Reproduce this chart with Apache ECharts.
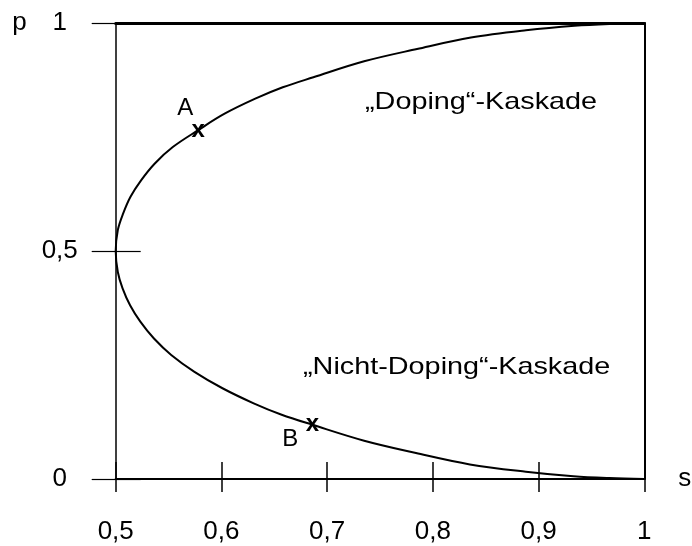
<!DOCTYPE html>
<html>
<head>
<meta charset="utf-8">
<script src="https://cdn.jsdelivr.net/npm/echarts@6/dist/echarts.min.js"></script>
<style>
html,body{margin:0;padding:0;background:#fff;}
#c{width:692px;height:546px;}
</style>
</head>
<body>
<div id="c"></div>
<script>
// Upper branch ("Doping"-Kaskade), from the apex to s=1
const sTop = [0.5, 0.502, 0.507, 0.514, 0.524, 0.537, 0.554, 0.578, 0.603, 0.632, 0.658, 0.687, 0.735, 0.785, 0.836, 0.888, 0.934, 0.967, 1.0];
const pTop = [0.5, 0.546, 0.582, 0.619, 0.655, 0.692, 0.728, 0.765, 0.801, 0.834, 0.859, 0.881, 0.916, 0.943, 0.968, 0.984, 0.994, 0.998, 1.0];
// Lower branch ("Nicht-Doping"-Kaskade), from the apex to s=1
const sBot = [0.5, 0.502, 0.5065, 0.5136, 0.5233, 0.5362, 0.5525, 0.5745, 0.601, 0.6305, 0.657, 0.686, 0.735, 0.784, 0.835, 0.888, 0.933, 0.967, 1.0];
const pBot = [0.5, 0.454, 0.418, 0.381, 0.345, 0.308, 0.272, 0.235, 0.199, 0.166, 0.141, 0.119, 0.084, 0.057, 0.032, 0.016, 0.006, 0.002, 0.0];
// Marked points
const markNames = ['A', 'B'];
const markS = [0.578, 0.686];
const markP = [0.765, 0.119];
// Axis names and region labels
const xName = 's';
const yName = 'p';
const textTop = '\u201EDoping\u201C-Kaskade';
const textBot = '\u201ENicht-Doping\u201C-Kaskade';

const FONT = "'Liberation Sans', Arial, sans-serif";
const fmt = v => String(+(+v).toFixed(2)).replace('.', ',');

// one continuous curve: top branch from s=1 back to the apex, then the lower branch
const curve = [];
for (let i = sTop.length - 1; i >= 0; i--) curve.push([sTop[i], pTop[i]]);
for (let i = 1; i < sBot.length; i++) curve.push([sBot[i], pBot[i]]);

const marks = markNames.map((n, i) => ({ name: n, value: [markS[i], markP[i]] }));
const letterOffsets = { A: [-13, -22], B: [-22, 15] };

const xBase = { type: 'value', min: 0.5, max: 1, interval: 0.1, splitLine: { show: false } };
const yBase = { type: 'value', min: 0, max: 1, interval: 0.5, splitLine: { show: false } };
const clear = 'rgba(0,0,0,0)';

const chart = echarts.init(document.getElementById('c'));
chart.setOption({
  animation: false,
  backgroundColor: '#fff',
  grid: { left: 115.7, right: 47.7, top: 23, bottom: 67, containLabel: false, outerBoundsMode: 'none' },
  xAxis: [
    Object.assign({}, xBase, {
      position: 'bottom',
      axisLine: { show: true, onZero: false, lineStyle: { color: '#000', width: 2 } },
      axisTick: { show: true, inside: false, length: 13, lineStyle: { color: '#000', width: 1.5 } },
      axisLabel: { show: true, margin: 40, formatter: fmt, color: '#000', fontSize: 26, fontFamily: FONT },
      name: xName, nameLocation: 'end', nameGap: 34,
      nameTextStyle: { color: '#000', fontSize: 26, fontFamily: FONT, verticalAlign: 'middle' }
    }),
    Object.assign({}, xBase, {
      position: 'bottom',
      axisLine: { show: false },
      axisTick: { show: true, inside: true, length: 17, lineStyle: { color: '#000', width: 1.5 } },
      axisLabel: { show: false }
    }),
    Object.assign({}, xBase, {
      position: 'top',
      axisLine: { show: true, onZero: false, lineStyle: { color: '#000', width: 3 } },
      axisTick: { show: false },
      axisLabel: { show: false }
    })
  ],
  yAxis: [
    Object.assign({}, yBase, {
      position: 'left',
      axisLine: { show: true, onZero: false, lineStyle: { color: '#000', width: 1.5 } },
      axisTick: { show: true, inside: false, length: 24, lineStyle: { color: '#000', width: 1.2 } },
      axisLabel: { show: true, margin: 56, align: 'center', formatter: fmt, color: '#000', fontSize: 26, fontFamily: FONT },
      name: yName, nameLocation: 'end', nameGap: 0,
      nameTextStyle: { color: '#000', fontSize: 26, fontFamily: FONT, align: 'right', verticalAlign: 'middle', padding: [0, 89, 0, 0] }
    }),
    Object.assign({}, yBase, {
      position: 'left',
      axisLine: { show: false },
      axisTick: { show: true, inside: true, length: 25, lineStyle: { color: '#000', width: 1.2 } },
      axisLabel: { show: false }
    }),
    Object.assign({}, yBase, {
      position: 'right',
      axisLine: { show: true, onZero: false, lineStyle: { color: '#000', width: 2 } },
      axisTick: { show: false },
      axisLabel: { show: false }
    })
  ],
  series: [
    {
      type: 'line', xAxisIndex: 0, yAxisIndex: 0,
      data: curve, showSymbol: false, symbol: 'none', smooth: 0.35,
      lineStyle: { color: '#000', width: 2 }, clip: false, z: 3
    },
    {
      type: 'scatter', xAxisIndex: 0, yAxisIndex: 0,
      data: marks, symbolSize: 2, itemStyle: { color: clear, opacity: 1 }, z: 4,
      label: { show: true, position: 'inside', formatter: 'x', color: '#000', opacity: 1, fontSize: 24, fontWeight: 'bold', fontFamily: FONT }
    },
    {
      type: 'scatter', xAxisIndex: 0, yAxisIndex: 0,
      data: marks.map(m => ({ name: m.name, value: m.value, label: { offset: letterOffsets[m.name] } })),
      symbolSize: 2, itemStyle: { color: clear, opacity: 1 }, z: 4,
      label: { show: true, position: 'inside', formatter: '{b}', color: '#000', opacity: 1, fontSize: 24, fontFamily: FONT }
    }
  ],
  graphic: [
    { type: 'text', x: 365, y: 102, scaleX: 1.2, style: { text: textTop, fill: '#000', font: '24px ' + FONT, align: 'left', verticalAlign: 'middle' } },
    { type: 'text', x: 303, y: 367, scaleX: 1.2, style: { text: textBot, fill: '#000', font: '24px ' + FONT, align: 'left', verticalAlign: 'middle' } }
  ]
});
</script>
</body>
</html>
